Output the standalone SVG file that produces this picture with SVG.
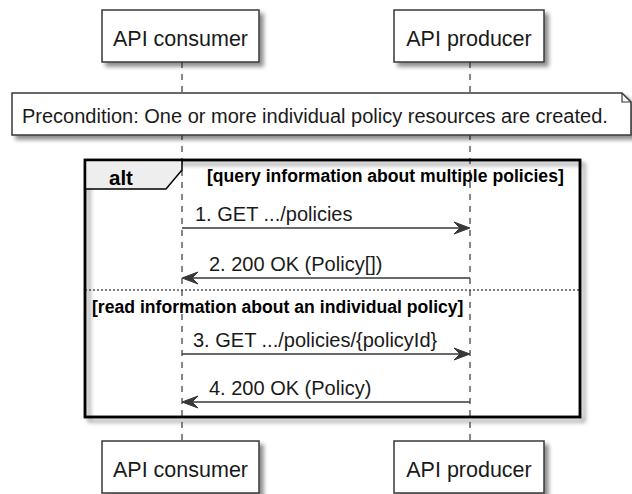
<svg xmlns="http://www.w3.org/2000/svg" width="632" height="494" viewBox="0 0 632 494">
<style>
  .box { fill: #ffffff; stroke: #383838; stroke-width: 1.5; }
  .ptext { font-family: "Liberation Sans", Arial, sans-serif; font-size: 21.5px; fill: #1a1a1a; text-anchor: middle; }
  .mtext { font-family: "Liberation Sans", Arial, sans-serif; font-size: 20px; fill: #1a1a1a; }
  .gtext { font-family: "Liberation Sans", Arial, sans-serif; font-size: 17.6px; font-weight: bold; fill: #000000; }
  .lifeline { stroke: #383838; stroke-width: 1.2; stroke-dasharray: 6,6; fill: none; }
  .msg { stroke: #383838; stroke-width: 1.5; fill: none; }
  .head { fill: #383838; stroke: #383838; stroke-width: 1; }
</style>
<defs>
  <filter id="shadow" x="-10%" y="-10%" width="130%" height="140%">
    <feGaussianBlur in="SourceAlpha" stdDeviation="2"/>
    <feOffset dx="4" dy="4" result="b"/>
    <feComponentTransfer><feFuncA type="linear" slope="0.45"/></feComponentTransfer>
    <feMerge><feMergeNode/><feMergeNode in="SourceGraphic"/></feMerge>
  </filter>
</defs>
<rect width="632" height="494" fill="#ffffff"/>

<g id="lifelines">
  <line class="lifeline" x1="182" y1="62" x2="182" y2="441"/>
  <line class="lifeline" x1="470" y1="62" x2="470" y2="441"/>
</g>

<g id="consumer-top">
  <rect class="box" x="102" y="10" width="157" height="52" filter="url(#shadow)"/>
  <text class="ptext" x="180.5" y="46">API consumer</text>
</g>
<g id="producer-top">
  <rect class="box" x="394" y="10" width="150" height="52" filter="url(#shadow)"/>
  <text class="ptext" x="469" y="46">API producer</text>
</g>

<g id="note">
  <path d="M12,93 L622,93 L631,102 L631,135 L12,135 Z" fill="#ffffff" stroke="#383838" stroke-width="1.5" filter="url(#shadow)"/>
  <path d="M622,93 L622,102 L631,102" fill="none" stroke="#383838" stroke-width="1.2"/>
  <text class="mtext" x="22" y="123">Precondition: One or more individual policy resources are created.</text>
</g>

<g id="alt-frame">
  <rect x="85" y="160" width="495" height="257" fill="none" stroke="#000000" stroke-width="2.5" filter="url(#shadow)"/>
  <path d="M85,160 L182,160 L182,170 L166,189 L85,189 Z" fill="#eeeeee" stroke="#000000" stroke-width="1.5"/>
  <rect x="85" y="160" width="495" height="257" fill="none" stroke="#000000" stroke-width="2.5"/>
  <text class="gtext" x="109" y="185" style="font-size:20.5px">alt</text>
  <text class="gtext" x="207" y="182">[query information about multiple policies]</text>
  <line x1="85" y1="290" x2="580" y2="290" stroke="#000000" stroke-width="1" stroke-dasharray="2,2"/>
  <text class="gtext" x="92" y="313">[read information about an individual policy]</text>
</g>

<g id="connectors">
  <g id="msg1">
    <line class="msg" x1="182" y1="228" x2="466" y2="228"/>
    <polygon class="head" points="470,228 454,222 460,228 454,234"/>
    <text class="mtext" x="195" y="221">1. GET .../policies</text>
  </g>
  <g id="msg2">
    <line class="msg" x1="186" y1="278" x2="470" y2="278"/>
    <polygon class="head" points="182,278 198,272 192,278 198,284"/>
    <text class="mtext" x="209" y="271">2. 200 OK (Policy[])</text>
  </g>
  <g id="msg3">
    <line class="msg" x1="182" y1="354" x2="466" y2="354"/>
    <polygon class="head" points="470,354 454,348 460,354 454,360"/>
    <text class="mtext" x="193" y="347">3. GET .../policies/{policyId}</text>
  </g>
  <g id="msg4">
    <line class="msg" x1="186" y1="402" x2="470" y2="402"/>
    <polygon class="head" points="182,402 198,396 192,402 198,408"/>
    <text class="mtext" x="209" y="395">4. 200 OK (Policy)</text>
  </g>
</g>

<g id="consumer-bottom">
  <rect class="box" x="102" y="441" width="157" height="52" filter="url(#shadow)"/>
  <text class="ptext" x="180.5" y="477">API consumer</text>
</g>
<g id="producer-bottom">
  <rect class="box" x="394" y="441" width="150" height="52" filter="url(#shadow)"/>
  <text class="ptext" x="469" y="477">API producer</text>
</g>
</svg>
